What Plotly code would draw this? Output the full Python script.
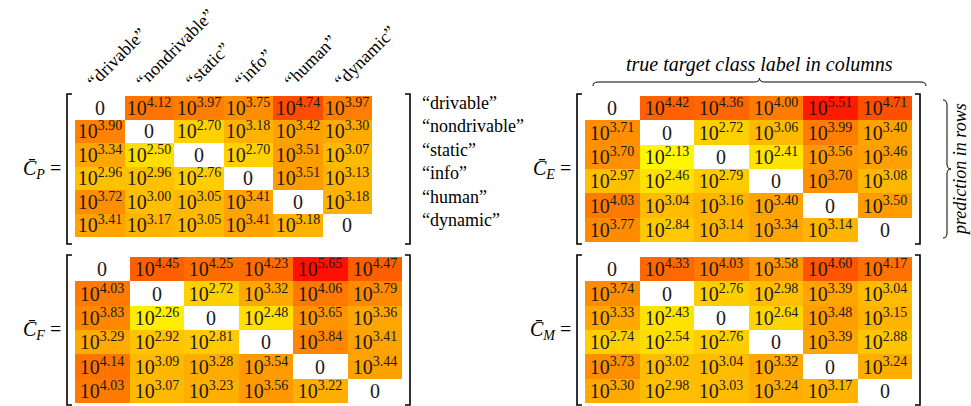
import plotly.graph_objects as go

W, H = 971, 406

classes = ["drivable", "nondrivable", "static", "info", "human", "dynamic"]

# log10 values of the matrices (diagonal = 0 -> None)
C_P = [
    [None, 4.12, 3.97, 3.75, 4.74, 3.97],
    [3.90, None, 2.70, 3.18, 3.42, 3.30],
    [3.34, 2.50, None, 2.70, 3.51, 3.07],
    [2.96, 2.96, 2.76, None, 3.51, 3.13],
    [3.72, 3.00, 3.05, 3.41, None, 3.18],
    [3.41, 3.17, 3.05, 3.41, 3.18, None],
]
C_E = [
    [None, 4.42, 4.36, 4.00, 5.51, 4.71],
    [3.71, None, 2.72, 3.06, 3.99, 3.40],
    [3.70, 2.13, None, 2.41, 3.56, 3.46],
    [2.97, 2.46, 2.79, None, 3.70, 3.08],
    [4.03, 3.04, 3.16, 3.40, None, 3.50],
    [3.77, 2.84, 3.14, 3.34, 3.14, None],
]
C_F = [
    [None, 4.45, 4.25, 4.23, 5.65, 4.47],
    [4.03, None, 2.72, 3.32, 4.06, 3.79],
    [3.83, 2.26, None, 2.48, 3.65, 3.36],
    [3.29, 2.92, 2.81, None, 3.84, 3.41],
    [4.14, 3.09, 3.28, 3.54, None, 3.44],
    [4.03, 3.07, 3.23, 3.56, 3.22, None],
]
C_M = [
    [None, 4.33, 4.03, 3.58, 4.60, 4.17],
    [3.74, None, 2.76, 2.98, 3.39, 3.04],
    [3.33, 2.43, None, 2.64, 3.48, 3.15],
    [2.74, 2.54, 2.76, None, 3.39, 2.88],
    [3.73, 3.02, 3.04, 3.32, None, 3.24],
    [3.30, 2.98, 3.03, 3.24, 3.17, None],
]

SERIF = "Liberation Serif"


def px_x(x):
    return x / W


def px_y(y):
    return 1 - y / H


def cell_text(m):
    return [["0" if v is None else "10<sup>%.2f</sup>" % v for v in row] for row in m]


panels = [
    ("P", C_P, "x", "y", (75, 402), (96, 242)),
    ("E", C_E, "x2", "y2", (585, 912), (96, 242)),
    ("F", C_F, "x3", "y3", (75, 402), (257, 403)),
    ("M", C_M, "x4", "y4", (585, 912), (257, 403)),
]

fig = go.Figure()
layout = dict(
    width=W, height=H, margin=dict(l=0, r=0, t=0, b=0),
    paper_bgcolor="white", plot_bgcolor="white", showlegend=False,
    font=dict(family=SERIF, color="black"),
)

shapes = []
annotations = []

for name, m, xa, ya, (x0, x1), (y0, y1) in panels:
    fig.add_trace(go.Heatmap(
        z=m, x=classes, y=classes, xaxis=xa, yaxis=ya,
        colorscale=[[0, "rgb(255,255,0)"], [1, "rgb(255,0,0)"]],
        zmin=2.0, zmax=5.9, showscale=False, hoverongaps=False,
        text=cell_text(m), texttemplate="%{text}",
        textfont=dict(family=SERIF, size=20, color="#1a1a1a"),
    ))
    sx = "xaxis" + xa[1:]
    sy = "yaxis" + ya[1:]
    layout[sx] = dict(domain=[px_x(x0), px_x(x1)], visible=False, anchor=ya,
                      fixedrange=True)
    layout[sy] = dict(domain=[px_y(y1), px_y(y0)], visible=False, anchor=xa,
                      autorange="reversed", fixedrange=True)
    # brackets
    bl, br = x0 - 8, x1 + 8
    bt, bb = y0 - 2, y1 + 2
    for path in [
        "M %f,%f L %f,%f L %f,%f L %f,%f" % (px_x(bl + 5), px_y(bt), px_x(bl), px_y(bt),
                                              px_x(bl), px_y(bb), px_x(bl + 5), px_y(bb)),
        "M %f,%f L %f,%f L %f,%f L %f,%f" % (px_x(br - 5), px_y(bt), px_x(br), px_y(bt),
                                              px_x(br), px_y(bb), px_x(br - 5), px_y(bb)),
    ]:
        shapes.append(dict(type="path", path=path, xref="paper", yref="paper",
                           line=dict(color="black", width=1.6)))
    # matrix name
    annotations.append(dict(
        text="<i>C\u0304</i><sub><i>%s</i></sub> =" % name,
        x=px_x(x0 - 12), y=px_y((y0 + y1) / 2), xref="paper", yref="paper",
        xanchor="right", yanchor="middle", showarrow=False,
        font=dict(family=SERIF, size=20, color="black"),
    ))

# column labels (rotated) above C_P
for c in classes:
    annotations.append(dict(
        text="\u201c%s\u201d" % c, x=c, xref="x", xshift=-20,
        y=px_y(94), yref="paper", xanchor="left", yanchor="bottom",
        textangle=-45, showarrow=False,
        font=dict(family=SERIF, size=18, color="black"),
    ))

# row labels to the right of C_P
for c in classes:
    annotations.append(dict(
        text="\u201c%s\u201d" % c, y=c, yref="y", yshift=5,
        x=px_x(420), xref="paper", xanchor="left", yanchor="middle",
        showarrow=False,
        font=dict(family=SERIF, size=18, color="black"),
    ))

# title over C_E with brace
annotations.append(dict(
    text="<i>true target class label in columns</i>",
    x=px_x(759), y=px_y(65), xref="paper", yref="paper",
    xanchor="center", yanchor="middle", showarrow=False,
    font=dict(family=SERIF, size=20, color="black"),
))
bx0, bx1, bxm, by = 593, 926, 759.5, 82
hpath = ("M %f,%f Q %f,%f %f,%f L %f,%f Q %f,%f %f,%f Q %f,%f %f,%f L %f,%f Q %f,%f %f,%f" % (
    px_x(bx0), px_y(by + 4), px_x(bx0), px_y(by), px_x(bx0 + 5), px_y(by),
    px_x(bxm - 5), px_y(by), px_x(bxm), px_y(by), px_x(bxm), px_y(by - 4),
    px_x(bxm), px_y(by), px_x(bxm + 5), px_y(by),
    px_x(bx1 - 5), px_y(by), px_x(bx1), px_y(by), px_x(bx1), px_y(by + 4)))
shapes.append(dict(type="path", path=hpath, xref="paper", yref="paper",
                   line=dict(color="black", width=1)))

# vertical brace and text for rows
vx, vy0, vy1, vym = 947, 100, 238, 169
vpath = ("M %f,%f Q %f,%f %f,%f L %f,%f Q %f,%f %f,%f Q %f,%f %f,%f L %f,%f Q %f,%f %f,%f" % (
    px_x(vx - 4), px_y(vy0), px_x(vx), px_y(vy0), px_x(vx), px_y(vy0 + 5),
    px_x(vx), px_y(vym - 5), px_x(vx), px_y(vym), px_x(vx + 4), px_y(vym),
    px_x(vx), px_y(vym), px_x(vx), px_y(vym + 5),
    px_x(vx), px_y(vy1 - 5), px_x(vx), px_y(vy1), px_x(vx - 4), px_y(vy1)))
shapes.append(dict(type="path", path=vpath, xref="paper", yref="paper",
                   line=dict(color="black", width=1)))
annotations.append(dict(
    text="<i>prediction in rows</i>",
    x=px_x(960), y=px_y(170), xref="paper", yref="paper",
    xanchor="center", yanchor="middle", textangle=-90, showarrow=False,
    font=dict(family=SERIF, size=18, color="black"),
))

layout["shapes"] = shapes
layout["annotations"] = annotations
fig.update_layout(**layout)
fig.write_html("out.html", config={"displayModeBar": False},
               post_script="document.body.style.margin='0';")
